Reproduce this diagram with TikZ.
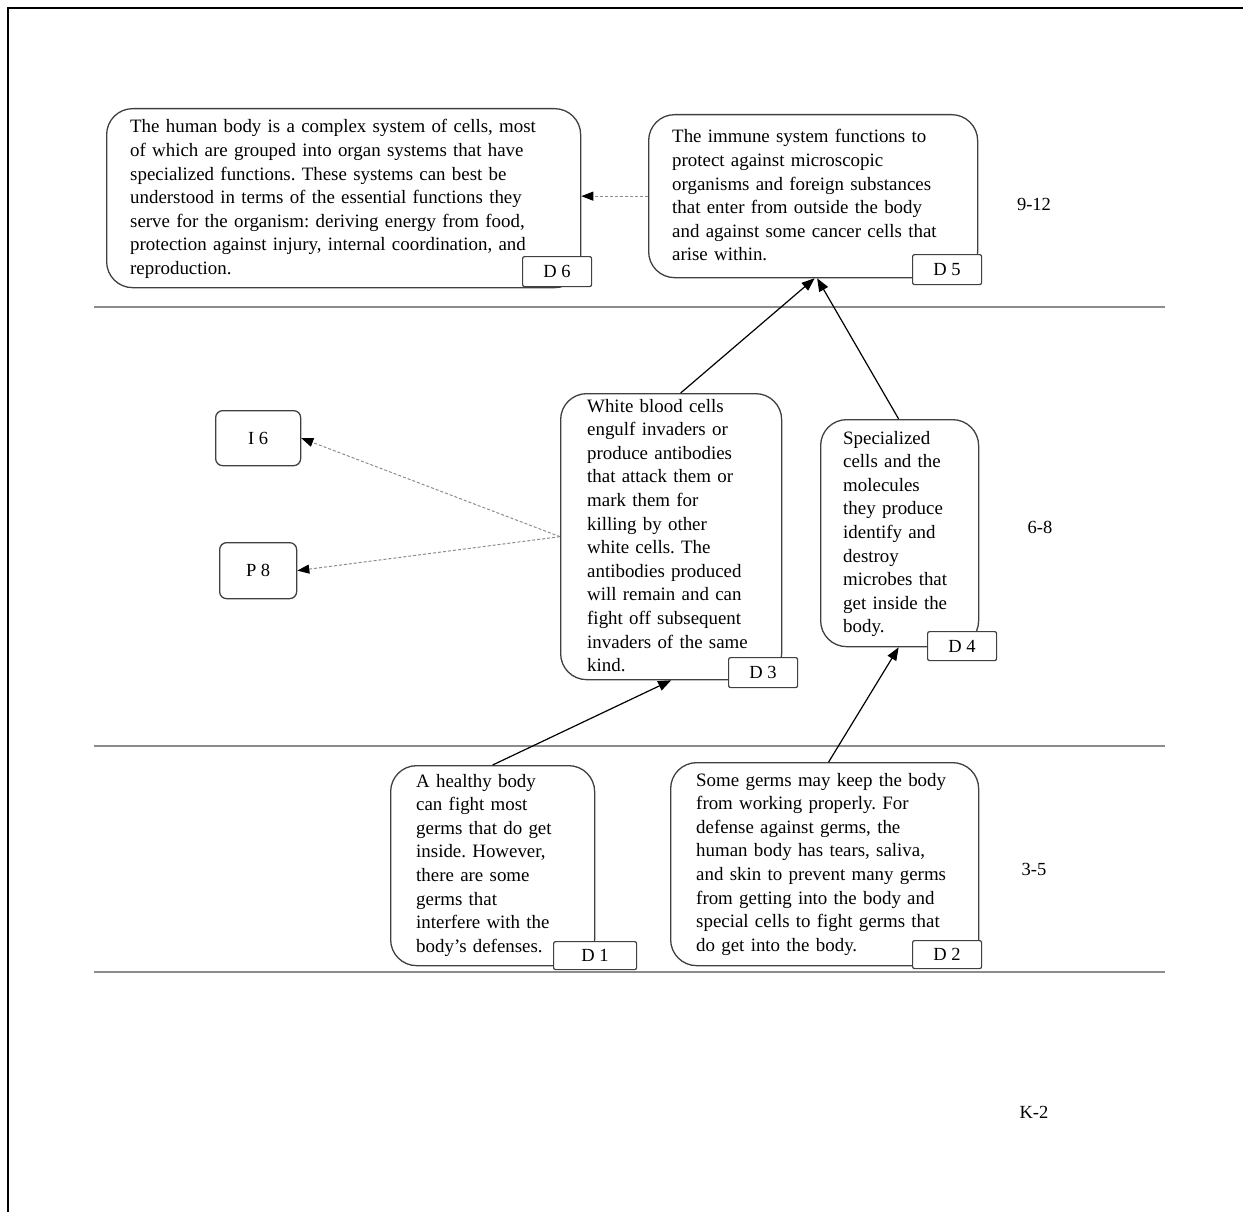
\documentclass[tikz,border=0pt]{standalone}
\usepackage{fontspec}
\setmainfont{Liberation Serif}
\usetikzlibrary{arrows.meta}
\frenchspacing
\begin{document}
\begin{tikzpicture}[x=1pt,y=-1pt,
  box/.style={draw=black!75, line width=1.3pt, rounded corners=26pt, anchor=north west, inner sep=0pt},
  smallbox/.style={draw=black!75, line width=1.3pt, rounded corners=7pt, anchor=north west, inner sep=0pt},
  tag/.style={draw=black!75, line width=1.2pt, fill=white, rounded corners=2pt, anchor=north west, inner sep=0pt, font=\fontsize{18.5}{22}\selectfont},
  txt/.style={anchor=base west, inner sep=0pt, align=left, font=\fontsize{18.9}{23.6}\selectfont\frenchspacing},
  grade/.style={inner sep=0pt, font=\fontsize{18.5}{22}\selectfont},
  band/.style={draw=black!45, line width=1.6pt},
  arr/.style={draw=black, line width=1.2pt, -{Triangle[length=13pt,width=10pt]}},
  darr/.style={draw=black!45, line width=1pt, densely dashed, -{Triangle[length=12pt,width=9pt,color=black]}}
]
\useasboundingbox (0,0) rectangle (1243,1212);
% frame
\draw[black, line width=1.2pt] (8,1212) -- (8,8) -- (1243,8);
% bands
\draw[band] (94,307) -- (1165,307);
\draw[band] (94,746) -- (1165,746);
\draw[band] (94,972) -- (1165,972);

% boxes
\node[box, minimum width=474pt, minimum height=179pt] (d6) at (106,108) {};
\node[box, minimum width=329pt, minimum height=163pt] (d5) at (648,114) {};
\node[box, minimum width=221pt, minimum height=286pt] (d3) at (560,393) {};
\node[box, minimum width=158pt, minimum height=227pt] (d4) at (820,419) {};
\node[box, minimum width=204pt, minimum height=200pt] (d1) at (390,765) {};
\node[box, minimum width=308pt, minimum height=203pt] (d2) at (670,762) {};
\node[smallbox, minimum width=85pt, minimum height=55pt] (i6) at (215,410) {};
\node[smallbox, minimum width=77pt, minimum height=56pt] (p8) at (219,542) {};
\node[font=\fontsize{18.5}{22}\selectfont] (i6t) at (i6) {I 6};
\node[font=\fontsize{18.5}{22}\selectfont] (p8t) at (p8) {P 8};

% texts
\node[txt, text width=470pt] (t6) at (130,133) {The human body is a complex system of cells, most\\
of which are grouped into organ systems that have\\
specialized functions. These systems can best be\\
understood in terms of the essential functions they\\
serve for the organism: deriving energy from food,\\
protection against injury, internal coordination, and\\
reproduction.};
\node[txt, text width=310pt] (t5) at (672,143) {The immune system functions to\\
protect against microscopic\\
organisms and foreign substances\\
that enter from outside the body\\
and against some cancer cells that\\
arise within.};
\node[txt, text width=200pt] (t3) at (587,412) {White blood cells\\
engulf invaders or\\
produce antibodies\\
that attack them or\\
mark them for\\
killing by other\\
white cells. The\\
antibodies produced\\
will remain and can\\
fight off subsequent\\
invaders of the same\\
kind.};
\node[txt, text width=140pt] (t4) at (843,444) {Specialized\\
cells and the\\
molecules\\
they produce\\
identify and\\
destroy\\
microbes that\\
get inside the\\
body.};
\node[txt, text width=180pt] (t1) at (416,787) {A healthy body\\
can fight most\\
germs that do get\\
inside. However,\\
there are some\\
germs that\\
interfere with the\\
body's defenses.};
\node[txt, text width=290pt] (t2) at (696,786) {Some germs may keep the body\\
from working properly. For\\
defense against germs, the\\
human body has tears, saliva,\\
and skin to prevent many germs\\
from getting into the body and\\
special cells to fight germs that\\
do get into the body.};

% tags
\node[tag, minimum width=69pt, minimum height=30pt] (g6) at (522,256) {D 6};
\node[tag, minimum width=69pt, minimum height=30pt] (g5) at (912,254) {D 5};
\node[tag, minimum width=69pt, minimum height=30pt] (g3) at (728,657) {D 3};
\node[tag, minimum width=69pt, minimum height=29pt] (g4) at (927,631) {D 4};
\node[tag, minimum width=83pt, minimum height=28pt] (g1) at (553,941) {D 1};
\node[tag, minimum width=69pt, minimum height=28pt] (g2) at (912,940) {D 2};

% grade labels
\node[grade] (k912) at (1034,204) {9-12};
\node[grade] (k68) at (1040,527) {6-8};
\node[grade] (k35) at (1034,869) {3-5};
\node[grade] (kk2) at (1034,1112) {K-2};

% connectors
\draw[darr] (d5.west) -- (d5.west -| d6.east);
\draw[darr] (d3.west) -- (i6.east);
\draw[darr] (d3.west) -- (p8.east);
\draw[arr] ([xshift=9.5pt]d3.north) -- ([xshift=1.5pt]d5.south);
\draw[arr] ([xshift=-1pt]d4.north) -- ([xshift=4pt]d5.south);
\draw[arr] (d1.north) -- (d3.south);
\draw[arr] ([xshift=4pt]d2.north) -- ([xshift=-1pt]d4.south);
\end{tikzpicture}
\end{document}
